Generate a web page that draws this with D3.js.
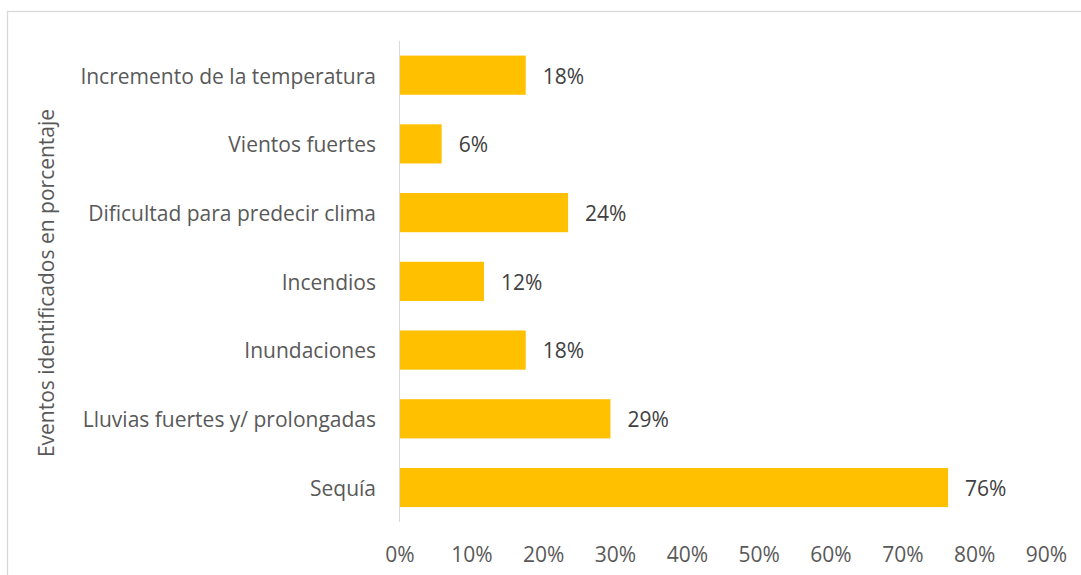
<!DOCTYPE html>
<html>
<head>
<meta charset="utf-8">
<script src="https://cdn.jsdelivr.net/npm/d3@7"></script>
<style>
  html, body { margin: 0; padding: 0; background: #fff; }
  svg { display: block; font-family: "Open Sans", sans-serif; }
</style>
</head>
<body>
<svg id="chart" width="1081" height="575"></svg>
<script>
const categories = [
  "Incremento de la temperatura",
  "Vientos fuertes",
  "Dificultad para predecir clima",
  "Incendios",
  "Inundaciones",
  "Lluvias fuertes y/ prolongadas",
  "Sequía"
];
const values = [17.5, 5.8, 23.4, 11.7, 17.5, 29.3, 76.3];
const valueLabels = ["18%", "6%", "24%", "12%", "18%", "29%", "76%"];
const xTicks = [0, 10, 20, 30, 40, 50, 60, 70, 80, 90];
const yTitle = "Eventos identificados en porcentaje";

const svg = d3.select("#chart");

// outer frame
svg.append("rect")
  .attr("x", 7.5).attr("y", 11.5)
  .attr("width", 1100).attr("height", 600)
  .attr("fill", "none").attr("stroke", "#d9d9d9").attr("stroke-width", 1.3);

const x = d3.scaleLinear().domain([0, 90]).range([400, 1046.5]);
const y = d3.scaleBand().domain(categories).range([40.8, 521.9]).paddingInner(0.43).paddingOuter(0.215);

// bars
svg.append("g").selectAll("rect")
  .data(categories)
  .join("rect")
  .attr("x", x(0))
  .attr("y", d => y(d))
  .attr("width", (d, i) => x(values[i]) - x(0))
  .attr("height", y.bandwidth())
  .attr("fill", "#ffc000");

// vertical axis line
svg.append("line")
  .attr("x1", 399.5).attr("x2", 399.5)
  .attr("y1", 40.8).attr("y2", 521.9)
  .attr("stroke", "#d9d9d9").attr("stroke-width", 1);

// category labels
svg.append("g").selectAll("text")
  .data(categories)
  .join("text")
  .attr("x", 376)
  .attr("y", d => y(d) + y.bandwidth() / 2)
  .attr("dy", "0.4em")
  .attr("text-anchor", "end")
  .attr("font-size", 21)
  .attr("fill", "#595959")
  .text(d => d);

// value labels
svg.append("g").selectAll("text")
  .data(categories)
  .join("text")
  .attr("x", (d, i) => x(values[i]) + 17)
  .attr("y", d => y(d) + y.bandwidth() / 2)
  .attr("dy", "0.4em")
  .attr("font-size", 21)
  .attr("fill", "#404040")
  .text((d, i) => valueLabels[i]);

// x tick labels
svg.append("g").selectAll("text")
  .data(xTicks)
  .join("text")
  .attr("x", d => x(d))
  .attr("y", 562)
  .attr("text-anchor", "middle")
  .attr("font-size", 21)
  .attr("fill", "#595959")
  .text(d => d + "%");

// y title
svg.append("text")
  .attr("transform", "translate(53.5,283) rotate(-90)")
  .attr("text-anchor", "middle")
  .attr("font-size", 21)
  .attr("fill", "#595959")
  .text(yTitle);
</script>
</body>
</html>
